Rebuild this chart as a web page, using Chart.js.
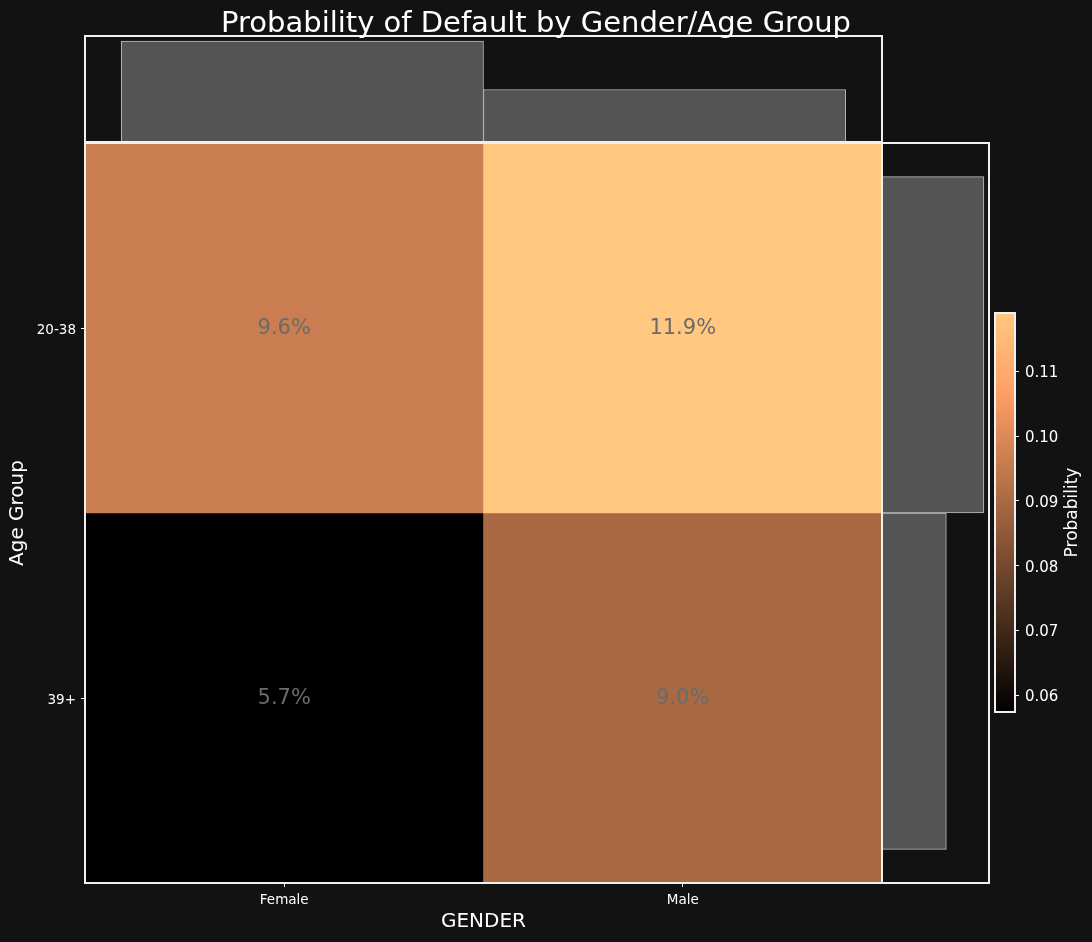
<!DOCTYPE html>
<html>
<head>
<meta charset="utf-8">
<script src="https://cdn.jsdelivr.net/npm/chart.js@4.4.1/dist/chart.umd.min.js"></script>
<style>
  html, body { margin:0; padding:0; background:#121212; }
  #wrap { position:relative; width:1092px; height:942px; overflow:hidden; }
  #wrap canvas { position:absolute; left:0; top:0; }
  #title { position:absolute; left:0; top:4px; width:1072px; text-align:center; color:#fff;
           font-family:"DejaVu Sans", sans-serif; font-size:29px; line-height:36px; }
</style>
</head>
<body>
<div id="wrap">
  <canvas id="main" width="1092" height="942"></canvas>
  <canvas id="top" width="1092" height="942"></canvas>
  <canvas id="right" width="1092" height="942"></canvas>
  <canvas id="cbar" width="1092" height="942"></canvas>
  <div id="title">Probability of Default by Gender/Age Group</div>
</div>
<script>
// ---------------- data ----------------
const genders = ['Female', 'Male'];
const ageGroups = ['20-38', '39+'];            // top row first
const prob2038 = [0.0962, 0.1190];             // Female, Male
const prob39 = [0.0574, 0.0900];               // Female, Male
const genderShare = [0.658, 0.342];            // top marginal bars
const ageShare = [0.613, 0.387];               // right marginal bars (20-38, 39+)
const cbarTicks = [0.06, 0.07, 0.08, 0.09, 0.10, 0.11];

// ---------------- helpers ----------------
const FONT = '"DejaVu Sans", sans-serif';
const probRows = [prob2038, prob39];
const allVals = probRows.flat();
const vmin = Math.min(...allVals), vmax = Math.max(...allVals);

function copper(t) {
  t = Math.max(0, Math.min(1, t));
  const r = Math.min(1, 1.25 * t), g = 0.7812 * t, b = 0.4975 * t;
  return `rgb(${Math.round(r*255)},${Math.round(g*255)},${Math.round(b*255)})`;
}
const colorFor = v => copper((v - vmin) / (vmax - vmin));

const borderPlugin = (color, width) => ({
  id: 'frame',
  afterDraw(chart) {
    const a = chart.chartArea, ctx = chart.ctx;
    ctx.save();
    ctx.strokeStyle = color; ctx.lineWidth = width;
    ctx.strokeRect(a.left, a.top, a.right - a.left, a.bottom - a.top);
    ctx.restore();
  }
});

Chart.defaults.font.family = FONT;
Chart.defaults.color = '#ffffff';
Chart.defaults.animation = false;
Chart.defaults.responsive = false;
Chart.defaults.plugins.legend.display = false;
Chart.defaults.plugins.tooltip.enabled = false;

// ---------------- main heatmap ----------------
const nRows = ageGroups.length;
const heatDatasets = probRows.map((row, i) => ({
  label: ageGroups[i],
  data: row.map(() => [nRows - i - 1, nRows - i]),
  values: row,
  backgroundColor: row.map(colorFor),
  borderWidth: 0,
  barPercentage: 1,
  categoryPercentage: 1,
  grouped: false
}));

const cellLabels = {
  id: 'cellLabels',
  afterDatasetsDraw(chart) {
    const ctx = chart.ctx;
    ctx.save();
    ctx.font = '21px ' + FONT;
    ctx.fillStyle = '#6b6b6b';
    ctx.textAlign = 'center';
    ctx.textBaseline = 'middle';
    chart.data.datasets.forEach((ds, di) => {
      chart.getDatasetMeta(di).data.forEach((bar, j) => {
        const p = bar.getProps(['x', 'y', 'base'], true);
        ctx.fillText((ds.values[j] * 100).toFixed(1) + '%', p.x, (p.y + p.base) / 2 + 1);
      });
    });
    ctx.restore();
  }
};

new Chart(document.getElementById('main'), {
  type: 'bar',
  data: { labels: genders, datasets: heatDatasets },
  options: {
    layout: { padding: { left: 0, top: 143, right: 210, bottom: 0 } },
    scales: {
      x: {
        type: 'category',
        offset: true,
        grid: { display: true, drawOnChartArea: false, drawTicks: true, tickLength: 4, color: '#ffffff', offset: false },
        border: { display: false },
        ticks: { color: '#ffffff', font: { size: 13.5 }, padding: 5 },
        title: { display: true, text: 'GENDER', color: '#ffffff', font: { size: 20 }, padding: { top: 0, bottom: 8 } },
        afterFit: s => { s.height = 59; }
      },
      y: {
        type: 'linear', min: 0, max: nRows,
        afterBuildTicks: s => { s.ticks = ageGroups.map((g, i) => ({ value: nRows - i - 0.5 })); },
        grid: { display: true, drawOnChartArea: false, drawTicks: true, tickLength: 4, color: '#ffffff' },
        border: { display: false },
        ticks: {
          color: '#ffffff', font: { size: 13.5 }, padding: 5, labelOffset: 2,
          callback: v => ageGroups[nRows - 1 - Math.floor(v)]
        },
        title: { display: true, text: 'Age Group', color: '#ffffff', font: { size: 20 }, padding: { top: 6, bottom: 0 } },
        afterFit: s => { s.width = 85; }
      }
    }
  },
  plugins: [cellLabels, borderPlugin('#f0f0f0', 2)]
});

// ---------------- top marginal ----------------
const barFill = '#545454', barEdge = '#bdbdbd';
new Chart(document.getElementById('top'), {
  type: 'bar',
  data: {
    datasets: [{
      data: genderShare.map((v, i) => ({ x: i + 0.5, y: v })),
      backgroundColor: barFill, borderColor: barEdge, borderWidth: 1, borderSkipped: 'bottom',
      barPercentage: 1, categoryPercentage: 1, grouped: false, clip: false
    }]
  },
  options: {
    layout: { padding: { left: 85, top: 36, right: 210, bottom: 800 } },
    scales: {
      x: { type: 'linear', display: false, offset: false, min: -0.1, max: genders.length + 0.1,
           afterBuildTicks: s => { s.ticks = genders.map((g, i) => ({ value: i + 0.5 })); } },
      y: { display: false, min: 0, max: Math.max(...genderShare) * 1.05 }
    }
  },
  plugins: [borderPlugin('#f0f0f0', 2)]
});

// ---------------- right marginal ----------------
new Chart(document.getElementById('right'), {
  type: 'bar',
  data: {
    datasets: [{
      data: ageShare.map((v, i) => ({ y: i + 0.5, x: v })),
      backgroundColor: barFill, borderColor: barEdge, borderWidth: 1, borderSkipped: 'left',
      barPercentage: 1, categoryPercentage: 1, grouped: false, clip: false
    }]
  },
  options: {
    indexAxis: 'y',
    layout: { padding: { left: 882, top: 143, right: 103, bottom: 59 } },
    scales: {
      y: { type: 'linear', display: false, offset: false, reverse: true, min: -0.1, max: ageGroups.length + 0.1,
           afterBuildTicks: s => { s.ticks = ageGroups.map((g, i) => ({ value: i + 0.5 })); } },
      x: { type: 'linear', display: false, min: 0, max: Math.max(...ageShare) * 1.05 }
    }
  },
  plugins: [borderPlugin('#f0f0f0', 2)]
});

// ---------------- colorbar ----------------
function cbarGradient(ctx) {
  const chart = ctx.chart;
  const ys = chart.scales.y;
  if (!chart.chartArea || !ys) return copper(0.5);
  const y0 = ys.getPixelForValue(vmin), y1 = ys.getPixelForValue(vmax);
  const g = chart.ctx.createLinearGradient(0, y0, 0, y1);
  [0, 0.2, 0.4, 0.6, 0.8, 1].forEach(t => g.addColorStop(t, copper(t)));
  return g;
}
const cbarLabel = {
  id: 'cbarLabel',
  afterDraw(chart) {
    const a = chart.chartArea, ctx = chart.ctx;
    ctx.save();
    ctx.translate(1073, (a.top + a.bottom) / 2);
    ctx.rotate(-Math.PI / 2);
    ctx.font = '17px ' + FONT;
    ctx.fillStyle = '#ffffff';
    ctx.textAlign = 'center';
    ctx.textBaseline = 'middle';
    ctx.fillText('Probability', 0, 0);
    ctx.restore();
  }
};
new Chart(document.getElementById('cbar'), {
  type: 'bar',
  data: {
    labels: ['p'],
    datasets: [{
      data: [[vmin, vmax]],
      backgroundColor: cbarGradient,
      borderWidth: 0, barPercentage: 1, categoryPercentage: 1
    }]
  },
  options: {
    layout: { padding: { left: 995, top: 313, right: 0, bottom: 230 } },
    scales: {
      x: { display: false },
      y: {
        position: 'right', min: vmin, max: vmax,
        afterBuildTicks: s => { s.ticks = cbarTicks.map(v => ({ value: v })); },
        grid: { display: true, drawOnChartArea: false, drawTicks: true, tickLength: 4, color: '#ffffff' },
        border: { display: false },
        ticks: { color: '#ffffff', font: { size: 15 }, padding: 6, labelOffset: 2, callback: v => v.toFixed(2) },
        afterFit: s => { s.width = 77; }
      }
    }
  },
  plugins: [cbarLabel, borderPlugin('#f0f0f0', 2)]
});
</script>
</body>
</html>
